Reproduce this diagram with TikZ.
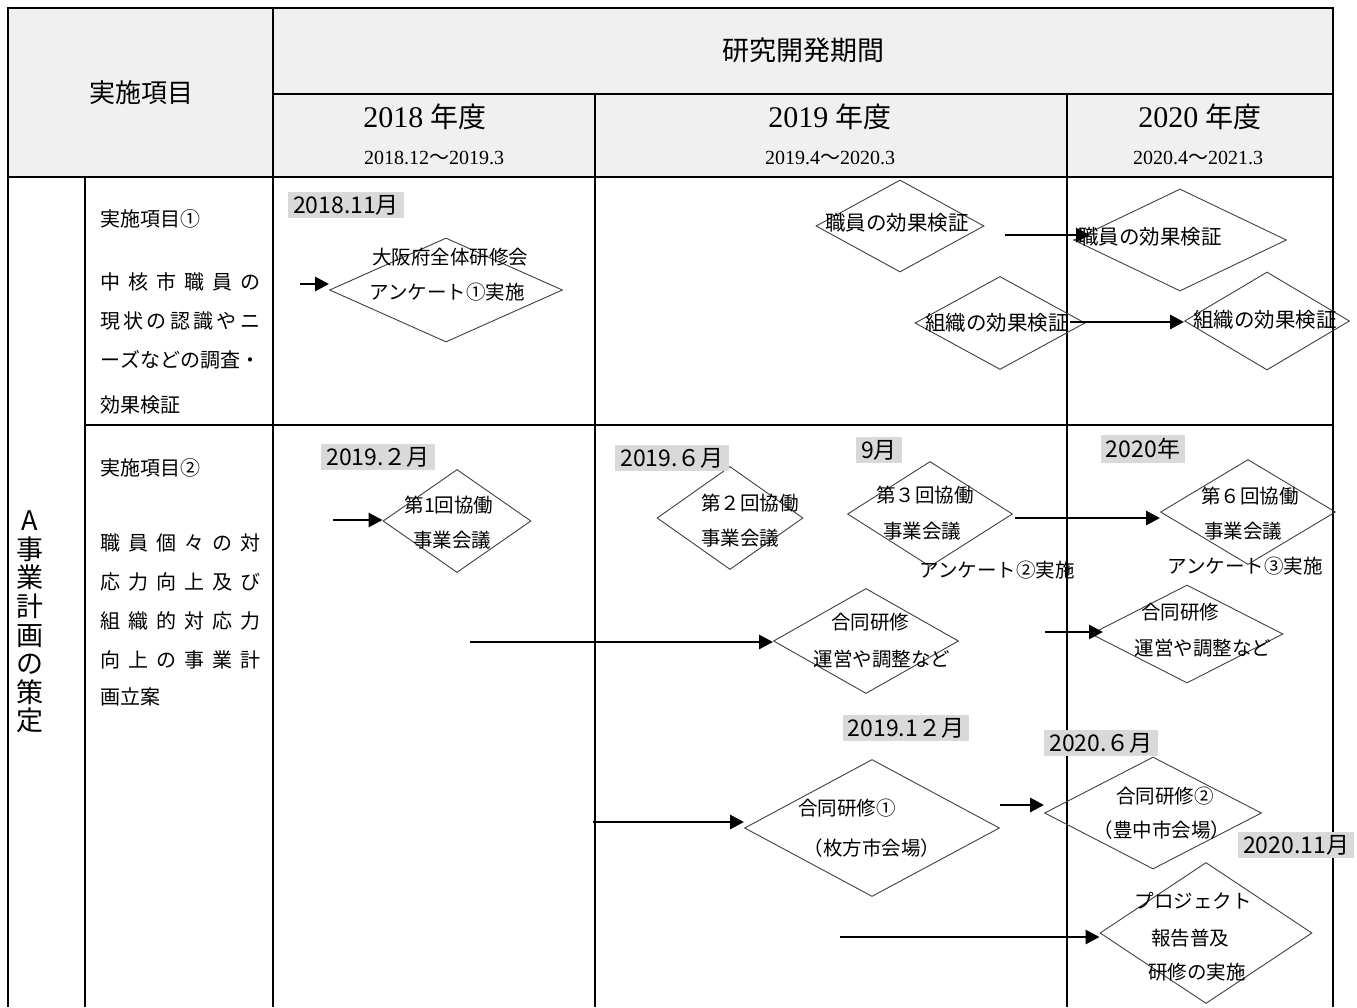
\documentclass[tikz,border=0pt]{standalone}
\usepackage{fontspec}
\setmainfont{Liberation Serif}
\newfontfamily\jp{Noto Sans CJK JP}
\usetikzlibrary{shapes.geometric,arrows.meta}
\newcommand\jus[1]{\makebox[160pt][s]{#1}}
\begin{document}
\begin{tikzpicture}[x=1pt,y=-1pt,
  tline/.style={line width=1.8pt},
  dia/.style={diamond, draw=black!75, line width=0.9pt, inner sep=0pt},
  lbl/.style={fill=black!15, inner xsep=5pt, inner ysep=3pt, font=\jp\fontsize{23}{25}\selectfont},
  dtxt/.style={font=\jp\fontsize{19.5}{21}\selectfont, inner sep=0pt},
  btxt/.style={font=\jp\fontsize{20.5}{22}\selectfont, inner sep=0pt},
  itxt/.style={anchor=west, inner sep=0pt, font=\jp\fontsize{20}{22}\selectfont},
  htxt/.style={inner sep=0pt, font=\jp\fontsize{26}{28}\selectfont},
  ytxt/.style={inner sep=0pt, font=\fontsize{30}{32}\selectfont},
  rtxt/.style={inner sep=0pt, font=\fontsize{20}{22}\selectfont},
  arr/.style={line width=2.8pt, -{Triangle[length=14pt,width=14pt]}},
]
\useasboundingbox (0,0) rectangle (1357,1007);
\fill[white] (0,0) rectangle (1357,1007);
\fill[black!6] (8,8) rectangle (1333,177);
% table lines
\draw[tline] (8,1007) -- (8,8) -- (1333,8) -- (1333,1007);
\draw[tline] (273,94) -- (1333,94);
\draw[tline] (8,177) -- (1333,177);
\draw[tline] (273,8) -- (273,1007);
\draw[tline] (595,94) -- (595,1007);
\draw[tline] (1067,94) -- (1067,1007);
\draw[tline] (85,177) -- (85,1007);
\draw[tline] (85,425) -- (1333,425);

% header texts
\node[htxt] (h0) at (141,93) {実施項目};
\node[htxt, font=\jp\fontsize{27}{29}\selectfont] (h1) at (803,50) {研究開発期間};
\node[ytxt] (y1) at (425,117) {2018 {\jp\fontsize{28}{30}\selectfont 年度}};
\node[rtxt] (r1) at (434,158) {2018.12{\jp ～}2019.3};
\node[ytxt] (y2) at (830,117) {2019 {\jp\fontsize{28}{30}\selectfont 年度}};
\node[rtxt] (r2) at (830,158) {2019.4{\jp ～}2020.3};
\node[ytxt] (y3) at (1200,117) {2020 {\jp\fontsize{28}{30}\selectfont 年度}};
\node[rtxt] (r3) at (1198,158) {2020.4{\jp ～}2021.3};

% vertical text
\node[inner sep=0pt, align=center, font=\jp\fontsize{27}{28.6}\selectfont] (vt) at (30,622)
  {A\\事\\業\\計\\画\\の\\策\\定};

% item texts
\node[itxt] (i1a) at (100,219) {実施項目①};
\node[itxt] (i1b) at (100,282) {\jus{中\hfill 核\hfill 市\hfill 職\hfill 員\hfill の}};
\node[itxt] (i1c) at (100,321) {\jus{現\hfill 状\hfill の\hfill 認\hfill 識\hfill や\hfill ニ}};
\node[itxt] (i1d) at (100,360) {\jus{ー\hfill ズ\hfill な\hfill ど\hfill の\hfill 調\hfill 査\hfill ・}};
\node[itxt] (i1e) at (100,405) {効果検証};
\node[itxt] (i2a) at (100,468) {実施項目②};
\node[itxt] (i2b) at (100,543) {\jus{職\hfill 員\hfill 個\hfill 々\hfill の\hfill 対}};
\node[itxt] (i2c) at (100,582) {\jus{応\hfill 力\hfill 向\hfill 上\hfill 及\hfill び}};
\node[itxt] (i2d) at (100,621) {\jus{組\hfill 織\hfill 的\hfill 対\hfill 応\hfill 力}};
\node[itxt] (i2e) at (100,660) {\jus{向\hfill 上\hfill の\hfill 事\hfill 業\hfill 計}};
\node[itxt] (i2f) at (100,697) {画立案};

% diamonds
\node[dia, minimum width=233pt, minimum height=104pt] (d1) at (446,290) {};
\node[dia, minimum width=168pt, minimum height=92pt] (d2) at (900,226) {};
\node[dia, minimum width=213pt, minimum height=102pt] (d3) at (1180,240) {};
\node[dia, minimum width=170pt, minimum height=93pt] (d4) at (1000,323) {};
\node[dia, minimum width=165pt, minimum height=98pt] (d5) at (1267,321) {};
\node[dia, minimum width=148pt, minimum height=103pt] (d6) at (457,521) {};
\node[dia, minimum width=146pt, minimum height=103pt] (d7) at (730,518) {};
\node[dia, minimum width=165pt, minimum height=105pt] (d8) at (930,514) {};
\node[dia, minimum width=175pt, minimum height=105pt] (d9) at (1248,512) {};
\node[dia, minimum width=185pt, minimum height=105pt] (d10) at (866,641) {};
\node[dia, minimum width=192pt, minimum height=98pt] (d11) at (1187,634) {};
\node[dia, minimum width=255pt, minimum height=137pt] (d12) at (872,828) {};
\node[dia, minimum width=217pt, minimum height=112pt] (d13) at (1153,813) {};
\node[dia, minimum width=212pt, minimum height=141pt] (d14) at (1206,933) {};

% diamond texts
\node[dtxt] (t1a) at (450,257) {大阪府全体研修会};
\node[dtxt] (t1b) at (447,292) {アンケート①実施};
\node[btxt] (t2) at (897,223) {職員の効果検証};
\node[btxt] (t3) at (1150,237) {職員の効果検証};
\node[btxt] (t4) at (997,323) {組織の効果検証};
\node[btxt] (t5) at (1265,320) {組織の効果検証};
\node[dtxt] (t6a) at (449,505) {第1回協働};
\node[dtxt] (t6b) at (452,540) {事業会議};
\node[dtxt] (t7a) at (750,503) {第２回協働};
\node[dtxt] (t7b) at (740,538) {事業会議};
\node[dtxt] (t8a) at (925,495) {第３回協働};
\node[dtxt] (t8b) at (922,531) {事業会議};
\node[dtxt] (t8c) at (997,570) {アンケート②実施};
\node[dtxt] (t9a) at (1250,496) {第６回協働};
\node[dtxt] (t9b) at (1243,531) {事業会議};
\node[dtxt] (t9c) at (1245,566) {アンケート③実施};
\node[dtxt] (t10a) at (870,622) {合同研修};
\node[dtxt] (t10b) at (882,659) {運営や調整など};
\node[dtxt] (t11a) at (1180,612) {合同研修};
\node[dtxt] (t11b) at (1203,648) {運営や調整など};
\node[dtxt] (t12a) at (847,808) {合同研修①};
\node[dtxt] (t12b) at (872,848) {（枚方市会場）};
\node[dtxt] (t13a) at (1165,796) {合同研修②};
\node[dtxt] (t13b) at (1162,830) {（豊中市会場）};
\node[dtxt] (t14a) at (1193,901) {プロジェクト};
\node[dtxt] (t14b) at (1190,938) {報告普及};
\node[dtxt] (t14c) at (1197,972) {研修の実施};

% gray labels
\node[lbl] (L1) at (346,205) {2018.11月};
\node[lbl] (L2) at (378,457) {2019.２月};
\node[lbl] (L3) at (672,458) {2019.６月};
\node[lbl] (L4) at (879,450) {9月};
\node[lbl] (L5) at (1143,449) {2020年};
\node[lbl] (L6) at (906,728) {2019.1２月};
\node[lbl] (L7) at (1101,743) {2020.６月};
\node[lbl] (L8) at (1296,845) {2020.11月};

% arrows
\coordinate (s1) at (300,284);
\coordinate (s2) at (1005,235);
\coordinate (e2) at (1090,235);
\coordinate (s3) at (1070,322);
\coordinate (s4) at (333,520);
\coordinate (s5) at (1015,518);
\coordinate (s6) at (470,642);
\coordinate (s7) at (1045,632);
\coordinate (e7) at (1103,632);
\coordinate (s8) at (593,822);
\coordinate (s9) at (1000,805);
\coordinate (s10) at (840,937);
\draw[arr] (s1) -- (s1 -| d1.west);
\draw[arr] (s2) -- (e2);
\draw[arr] (s3) -- (s3 -| d5.west);
\draw[arr] (s4) -- (s4 -| d6.west);
\draw[arr] (s5) -- (s5 -| d9.west);
\draw[arr] (s6) -- (s6 -| d10.west);
\draw[arr] (s7) -- (e7);
\draw[arr] (s8) -- (s8 -| d12.west);
\draw[arr] (s9) -- (s9 -| d13.west);
\draw[arr] (s10) -- (s10 -| d14.west);
\end{tikzpicture}
\end{document}
